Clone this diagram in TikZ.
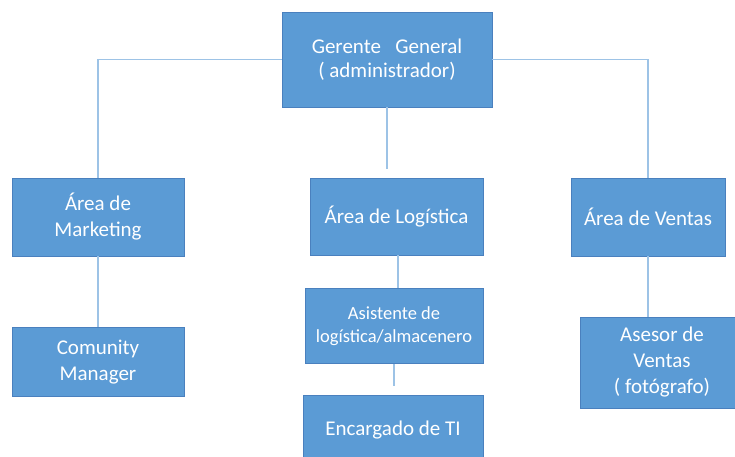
\documentclass[tikz,border=0pt]{standalone}
\usepackage{fontspec}
\setmainfont{Carlito}
\definecolor{boxfill}{HTML}{5B9BD5}
\definecolor{boxline}{HTML}{4A80BE}
\definecolor{linkc}{HTML}{9DC3E6}
\begin{document}
\begin{tikzpicture}[x=1pt,y=-1pt,
  unit/.style={draw=boxline,line width=0.8pt,fill=boxfill,text=white,align=center,inner sep=0pt,
    font=\fontsize{21}{26}\selectfont},
  link/.style={draw=linkc,line width=1.5pt}]
\useasboundingbox (0,0) rectangle (735,456);
% boxes
\node[unit,minimum width=210pt,minimum height=95pt,font=\fontsize{21}{24}\selectfont] (ger) at (387,59.5) {Gerente\ \ \ General\\( administrador)};
\node[unit,minimum width=172pt,minimum height=78pt] (mkt) at (98,217) {Área de\\Marketing};
\node[unit,minimum width=173pt,minimum height=77pt] (log) at (396.5,216.5) {Área de Logística};
\node[unit,minimum width=154pt,minimum height=78pt] (ven) at (648,217) {Área de Ventas};
\node[unit,minimum width=172pt,minimum height=69pt] (com) at (98,362) {Comunity\\Manager};
\node[unit,minimum width=178pt,minimum height=75pt,font=\fontsize{18.5}{23}\selectfont] (asi) at (394,326) {Asistente de\\logística/almacenero};
\node[unit,minimum width=180pt,minimum height=70pt] (enc) at (393,430) {Encargado de TI};
\node[unit,minimum width=160pt,minimum height=91pt] (ase) at (660,362.5) {};
\node[text=white,align=center,font=\fontsize{21}{26}\selectfont] (asetxt) at (662,362) {Asesor de\\Ventas\\( fotógrafo)};
% connectors
\draw[link] (ger.west) -| (mkt.north);
\draw[link] (ger.east) -| (ven.north);
\coordinate (g1) at (387,169);
\draw[link] (ger.south -| g1) -- (g1);
\draw[link] (mkt.south) -- (com.north);
\coordinate (l1) at (398,0);
\draw[link] (log.south -| l1) -- (asi.north -| l1);
\coordinate (a1) at (394,386);
\draw[link] (asi.south -| a1) -- (a1);
\draw[link] (ven.south) -- (ase.north -| ven.south);
\end{tikzpicture}
\end{document}
